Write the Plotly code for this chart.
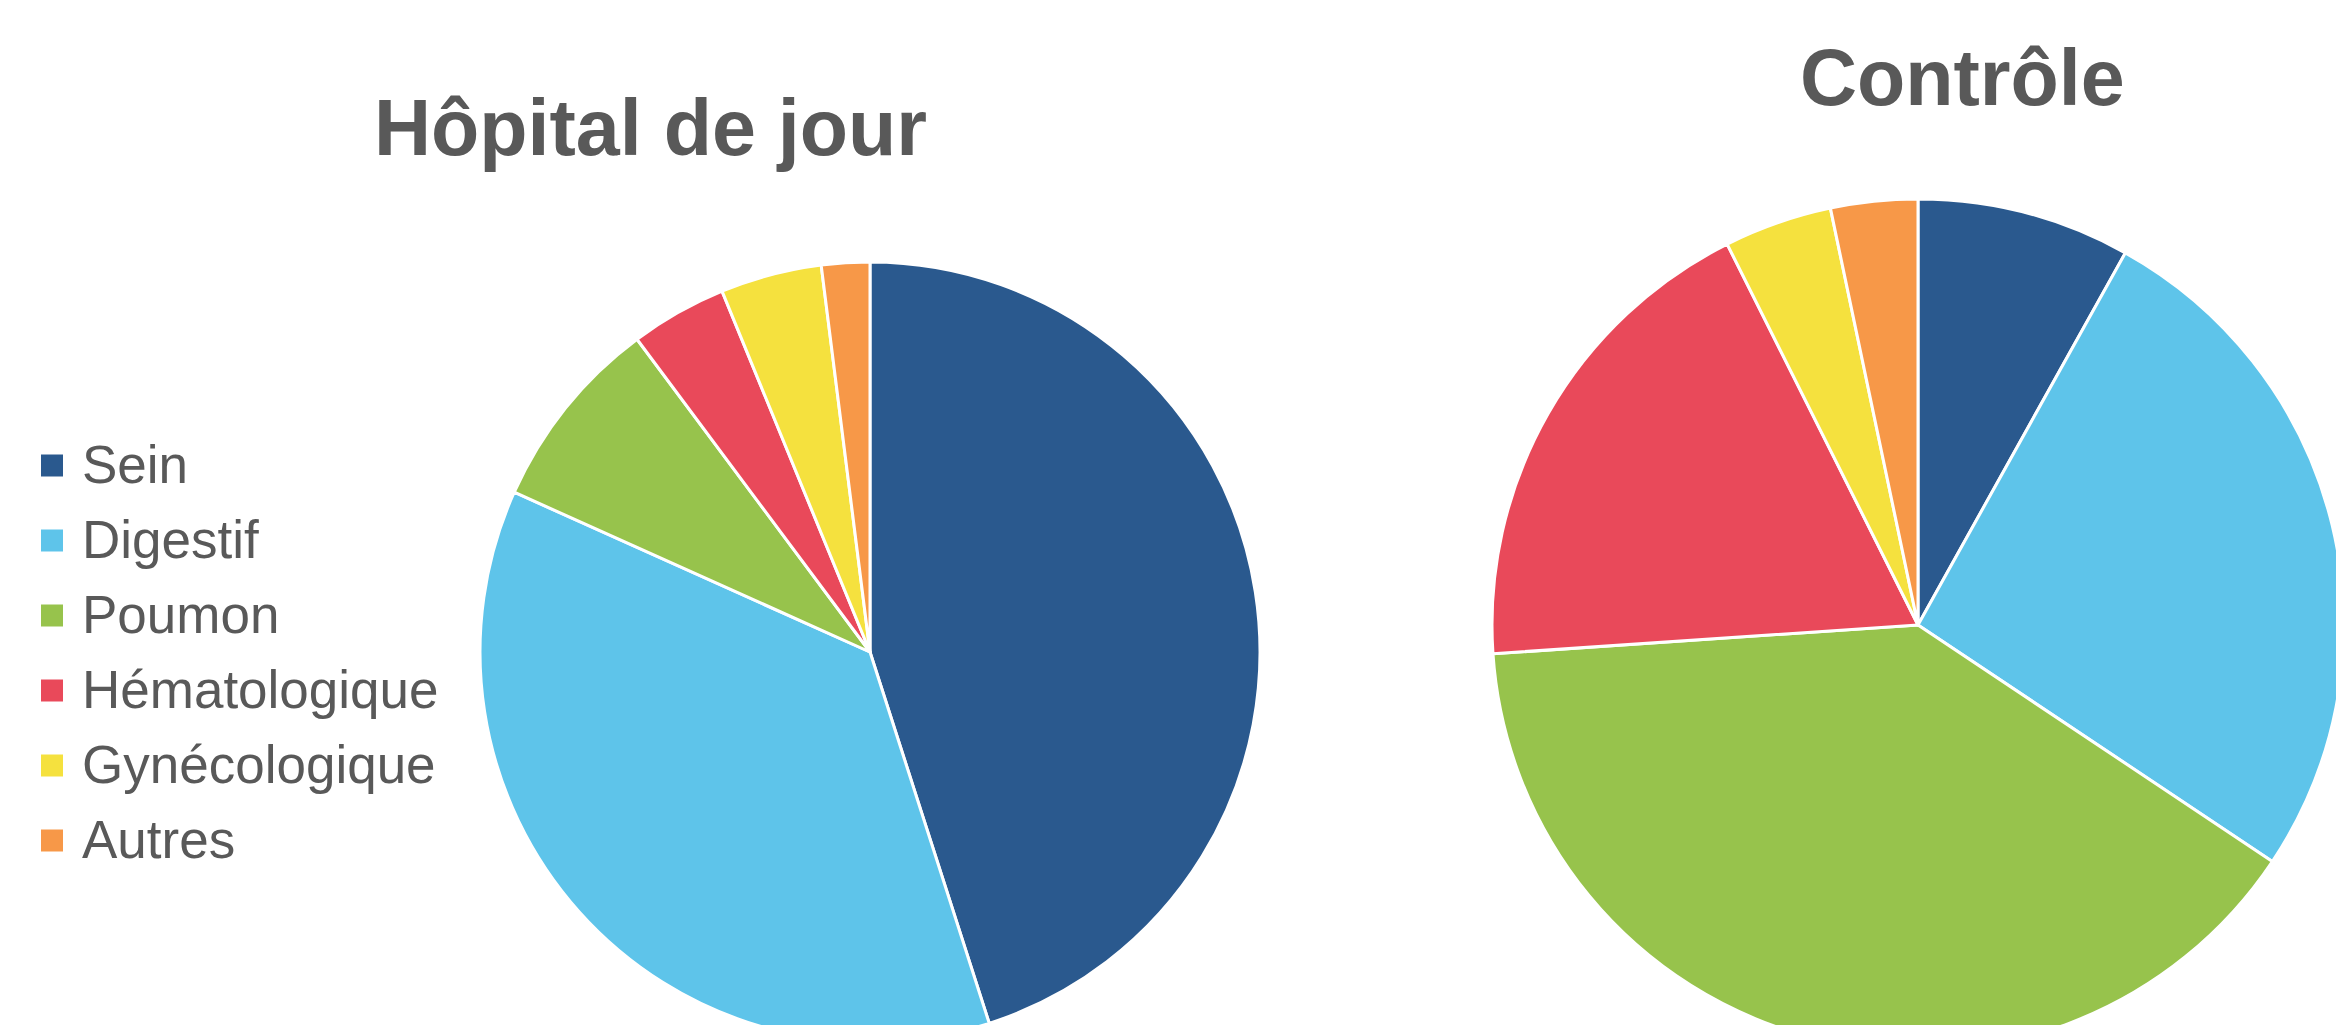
import plotly.graph_objects as go

# ---- data ----
categories = ["Sein", "Digestif", "Poumon", "Hématologique", "Gynécologique", "Autres"]
hopital_de_jour = [45.1, 36.7, 8.1, 4.0, 4.2, 2.0]
controle = [8.1, 26.3, 39.6, 18.7, 4.1, 3.3]
titles = ["Hôpital de jour", "Contrôle"]
colors = ["#2A598E", "#5EC4EA", "#97C34C", "#E9495A", "#F5E13E", "#F79848"]

# ---- layout geometry (pixels) ----
W, H = 2400, 1100          # figure larger than the window: pies get cut like the reference
VIEW_W, VIEW_H = 2336, 1025
TEXT = "#595959"
FONT = "Liberation Sans, Arial, sans-serif"


def dom(cx, cy, r):
    return dict(x=[(cx - r) / W, (cx + r) / W],
                y=[(H - cy - r) / H, (H - cy + r) / H])


fig = go.Figure()
for vals, (cx, cy, r) in zip([hopital_de_jour, controle], [(870, 652, 390), (1918, 625, 426)]):
    fig.add_trace(go.Pie(
        labels=categories, values=vals, sort=False, direction="clockwise", rotation=0,
        marker=dict(colors=colors, line=dict(color="white", width=3)),
        textinfo="none", showlegend=False, domain=dom(cx, cy, r),
        hovertemplate="%{label}: %{percent}<extra></extra>",
    ))

annotations = []
for t, (x, y) in zip(titles, [(650, 128), (1962, 77)]):
    annotations.append(dict(text=t, xref="paper", yref="paper", x=x / W, y=1 - y / H,
                            xanchor="center", yanchor="middle", showarrow=False,
                            font=dict(family=FONT, size=79, color=TEXT, weight="bold")))

# legend (square swatches + labels)
shapes = []
for i, (cat, col) in enumerate(zip(categories, colors)):
    yc = 465.5 + 75 * i
    shapes.append(dict(type="rect", xref="paper", yref="paper",
                       x0=41 / W, x1=63 / W, y0=1 - (yc + 11) / H, y1=1 - (yc - 11) / H,
                       fillcolor=col, line=dict(width=0)))
    annotations.append(dict(text=cat, xref="paper", yref="paper", x=80 / W, y=1 - (yc - 1) / H,
                            xanchor="left", yanchor="middle", showarrow=False,
                            font=dict(family=FONT, size=53, color=TEXT)))

fig.update_layout(
    width=W, height=H, autosize=False,
    margin=dict(l=0, r=0, t=0, b=0),
    paper_bgcolor="white", plot_bgcolor="white",
    annotations=annotations, shapes=shapes,
)

post = ("var gd=document.getElementById('{plot_id}');var box=gd.parentElement;"
        "document.documentElement.style.margin='0';document.documentElement.style.overflow='hidden';"
        "document.body.style.margin='0';document.body.style.overflow='hidden';"
        "box.style.width='%dpx';box.style.height='%dpx';box.style.overflow='hidden';" % (VIEW_W, VIEW_H))

fig.write_html("out.html", config={"displayModeBar": False}, post_script=post)
